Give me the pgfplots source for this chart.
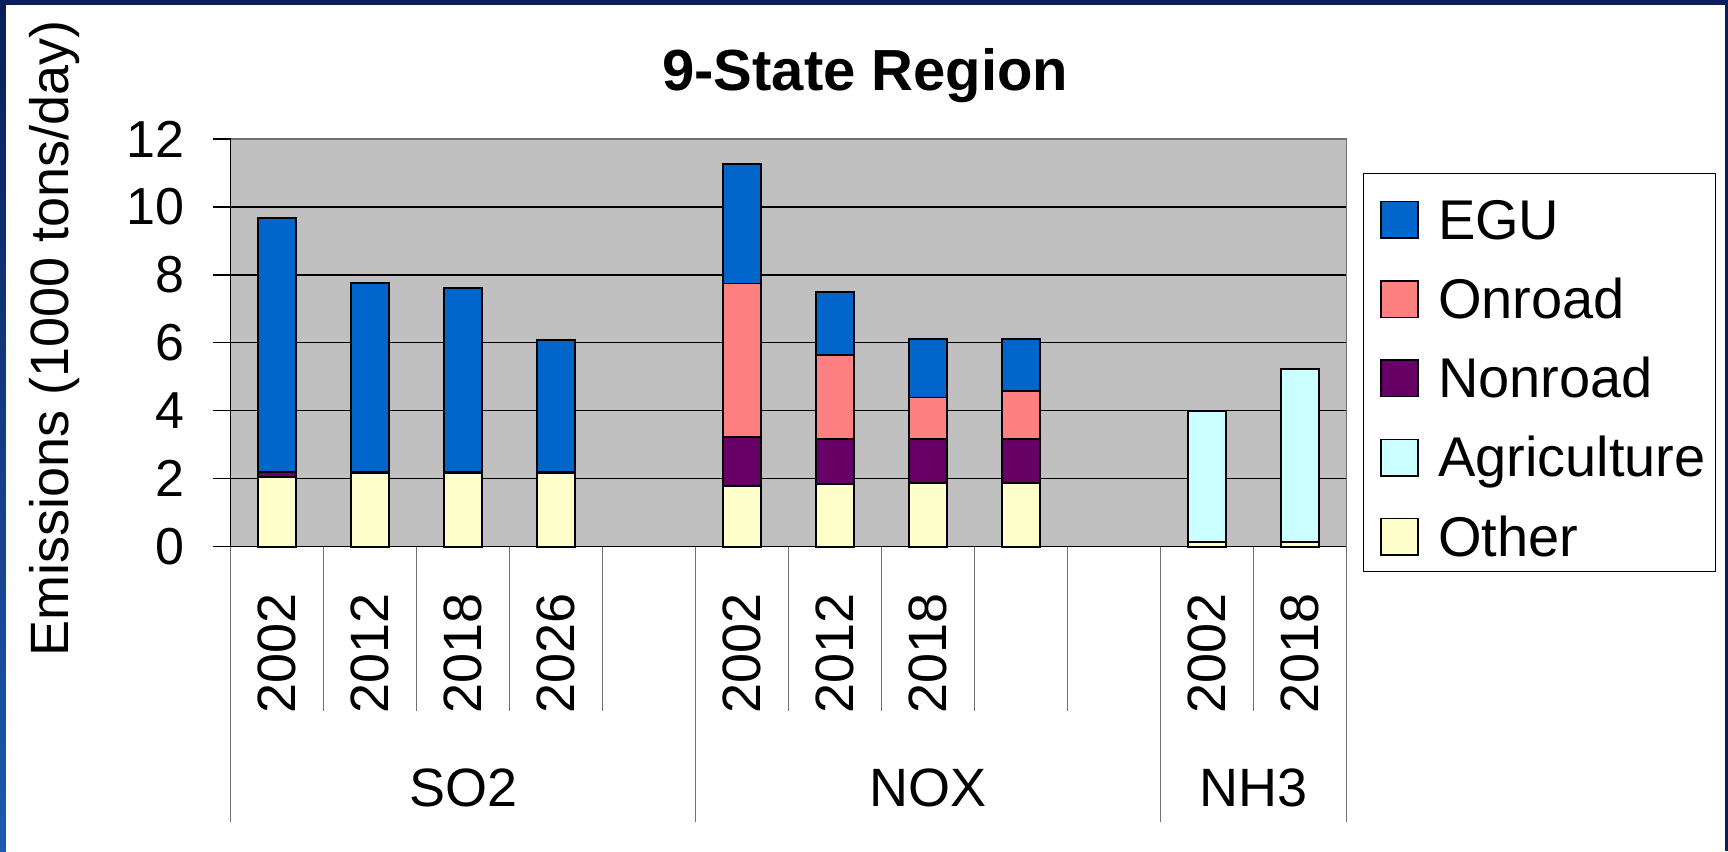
\documentclass[border=0pt]{standalone}
\usepackage{pgfplots}
\usepackage{pgfplotstable}
\pgfplotsset{compat=1.18}
\usepackage{fontspec}
\setmainfont{Liberation Sans}
\definecolor{egu}{HTML}{0066CC}
\definecolor{onroad}{HTML}{FF8080}
\definecolor{nonroad}{HTML}{660066}
\definecolor{agri}{HTML}{CCFFFF}
\definecolor{other}{HTML}{FFFFCC}
\definecolor{plotgray}{HTML}{C0C0C0}
\definecolor{navy}{HTML}{0B1E5B}
\definecolor{navylight}{HTML}{1B5AAE}
\definecolor{sepgray}{HTML}{707070}

\pgfplotstableread{
x other agri nonroad onroad egu
0  2.05 0    0.15 0    7.47
1  2.16 0    0.05 0    5.56
2  2.16 0    0.05 0    5.40
3  2.16 0    0.05 0    3.87
5  1.79 0    1.43 4.53 3.51
6  1.84 0    1.33 2.47 1.85
7  1.88 0    1.29 1.22 1.72
8  1.88 0    1.29 1.42 1.52
10 0.15 3.85 0    0    0
11 0.15 5.07 0    0    0
}\emissions

\newcommand{\swatch}[1]{\path[draw=none,fill=none] (0pt,0.5pt) -- (22.5pt,0.5pt);\draw[fill=#1,draw=black,line width=0.8pt] (4pt,0.5pt) rectangle (22.5pt,18.8pt);}
\newcommand{\fs}[1]{\fontsize{#1}{#1}\selectfont}

\begin{document}
\begin{tikzpicture}
\fill[navy] (0,0) rectangle (864pt,-425.5pt);
\shade[top color=navy, bottom color=navylight] (0,-2.5pt) rectangle (3pt,-425.5pt);
\fill[white] (3pt,-2.5pt) rectangle (862.5pt,-425.5pt);
\begin{axis}[
  at={(115.35pt,-273.35pt)}, anchor=south west,
  scale only axis, width=558pt, height=203.85pt,
  xmin=-0.5, xmax=11.5, ymin=0, ymax=12,
  ybar stacked, bar width=19pt,
  clip=false,
  axis line style={draw=none},
  axis background/.style={fill=plotgray},
  ytick={0,2,4,6,8,10,12},
  ymajorgrids, grid style={black, line width=0.6pt},
  ytick pos=left,
  tick align=outside,
  major tick length=9pt,
  y tick style={black, line width=0.6pt},
  yticklabel style={anchor=east, inner sep=0pt, font=\fs{26}},
  yticklabel shift=14pt,
  /pgf/number format/assume math mode=true,
  xtick={0,1,2,3,4,5,6,7,8,9,10,11},
  xticklabels={2002,2012,2018,2026,,2002,2012,2018,,,2002,2018},
  x tick style={draw=none},
  xticklabel style={rotate=90, anchor=west, inner sep=0pt, font=\fs{27}},
  xticklabel shift=74.8pt,
  title={9-State Region},
  title style={at={(axis description cs:0.5687,1.1202)}, anchor=base, inner sep=0pt, yshift=-6pt, font=\bfseries\fs{29}},
  ylabel={Emissions (1000 tons/day)},
  ylabel style={at={(axis description cs:-0.1452,0.5107)}, anchor=base, inner sep=0pt, font=\fs{27}},
  reverse legend,
  legend style={at={(axis description cs:1.0143,0.9166)}, anchor=north west,
    draw=black, line width=0.6pt, fill=white,
    inner xsep=5pt, inner ysep=7.8pt,
    row sep=14.75pt, column sep=9.5pt,
    cells={anchor=base west},
    nodes={inner sep=0pt, text height=24.9pt, text depth=0pt, font=\fs{28}}},
]
\addplot[fill=other, draw=black, line width=0.9pt, legend image code/.code={\swatch{other}}] table[x=x,y=other]{\emissions};
\addlegendentry{Other}
\addplot[fill=agri, draw=black, line width=0.9pt, legend image code/.code={\swatch{agri}}] table[x=x,y=agri]{\emissions};
\addlegendentry{Agriculture}
\addplot[fill=nonroad, draw=black, line width=0.9pt, legend image code/.code={\swatch{nonroad}}] table[x=x,y=nonroad]{\emissions};
\addlegendentry{Nonroad}
\addplot[fill=onroad, draw=black, line width=0.9pt, legend image code/.code={\swatch{onroad}}] table[x=x,y=onroad]{\emissions};
\addlegendentry{Onroad}
\addplot[fill=egu, draw=black, line width=0.9pt, legend image code/.code={\swatch{egu}}] table[x=x,y=egu]{\emissions};
\addlegendentry{EGU}
% plot frame
\draw[sepgray, line width=0.75pt] (axis cs:-0.5,12) -- (axis cs:11.5,12) -- (axis cs:11.5,0);
\draw[black, line width=0.75pt] (axis cs:-0.5,12) -- (axis cs:-0.5,0) -- (axis cs:11.5,0);
% category separators
\pgfplotsinvokeforeach{0.5,1.5,2.5,3.5,5.5,6.5,7.5,8.5,10.5}{
  \draw[sepgray, line width=0.75pt] (axis cs:#1,0) -- ++(0pt,-82pt);
}
\pgfplotsinvokeforeach{-0.5,4.5,9.5,11.5}{
  \draw[sepgray, line width=0.75pt] (axis cs:#1,0) -- ++(0pt,-137.5pt);
}
% group labels
\node[anchor=base, inner sep=0pt, font=\fs{27}, yshift=-129.65pt] at (axis cs:2,0) {SO2};
\node[anchor=base, inner sep=0pt, font=\fs{27}, yshift=-129.65pt] at (axis cs:7,0) {NOX};
\node[anchor=base, inner sep=0pt, font=\fs{27}, yshift=-129.65pt] at (axis cs:10.5,0) {NH3};
\end{axis}
\pgfresetboundingbox
\path[use as bounding box] (0,0) rectangle (864pt,-425.5pt);
\end{tikzpicture}
\end{document}
